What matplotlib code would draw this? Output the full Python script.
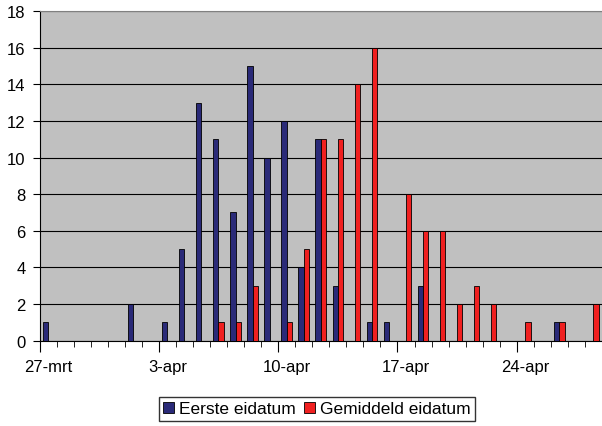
import numpy as np
import matplotlib
matplotlib.use('Agg')
import matplotlib.pyplot as plt

plt.rcParams['font.family'] = ['Liberation Sans', 'DejaVu Sans']

# one category per day, 27-mrt .. 28-apr
n_days = 33
week_labels = ['27-mrt', '3-apr', '10-apr', '17-apr', '24-apr']
eerste = [1, 0, 0, 0, 0, 2, 0, 1, 5, 13, 11, 7, 15, 10, 12, 4, 11,
          3, 0, 1, 1, 0, 3, 0, 0, 0, 0, 0, 0, 0, 1, 0, 0]
gemiddeld = [0, 0, 0, 0, 0, 0, 0, 0, 0, 0, 1, 1, 3, 0, 1, 5, 11,
             11, 14, 16, 0, 8, 6, 6, 2, 3, 2, 0, 1, 0, 1, 0, 2]

x = np.arange(n_days)
w = 0.31

fig = plt.figure(figsize=(6.02, 4.27), dpi=100)
ax = fig.add_axes([39.5 / 602, 1 - 341.7 / 427, 1 - 39.5 / 602, (341.7 - 12) / 427])
ax.set_facecolor('#c0c0c0')

ax.bar(x - w, eerste, width=w, align='edge', color='#2a2a78',
       edgecolor='black', linewidth=0.6, label='Eerste eidatum', zorder=3)
ax.bar(x, gemiddeld, width=w, align='edge', color='#f02020',
       edgecolor='black', linewidth=0.6, label='Gemiddeld eidatum', zorder=3)

ax.set_xlim(-0.5, 32.2)
ax.set_ylim(0, 18)
ax.set_yticks(range(0, 19, 2))
ax.set_axisbelow(True)
ax.yaxis.grid(True, color='black', linewidth=0.8)

for s in ['right']:
    ax.spines[s].set_visible(False)
ax.spines['top'].set_color('#808080')
ax.spines['left'].set_color('black')
ax.spines['bottom'].set_color('black')

ax.tick_params(axis='y', direction='out', length=5, pad=5, labelsize=12)

# long ticks every week, short ticks every day, labels centred on the day
week_pos = list(range(0, n_days, 7))
ax.set_xticks([p - 0.5 for p in week_pos])
ax.set_xticklabels([])
ax.set_xticks([p - 0.5 for p in range(n_days + 1) if p not in week_pos], minor=True)
ax.tick_params(axis='x', which='major', direction='out', length=8)
ax.tick_params(axis='x', which='minor', direction='out', length=4)

lab = ax.secondary_xaxis('bottom')
lab.set_xticks(week_pos)
lab.set_xticklabels(week_labels)
lab.tick_params(length=0, pad=13, labelsize=12)
lab.spines['bottom'].set_visible(False)

fig.legend(loc='center', bbox_to_anchor=(317 / 602, 1 - 410 / 427), ncol=2,
           fontsize=12.5, frameon=True, fancybox=False, edgecolor='black',
           handlelength=0.6, handleheight=0.6, handletextpad=0.3,
           columnspacing=0.5, borderpad=0.25, borderaxespad=0)

fig.savefig('out.png', dpi=100)
